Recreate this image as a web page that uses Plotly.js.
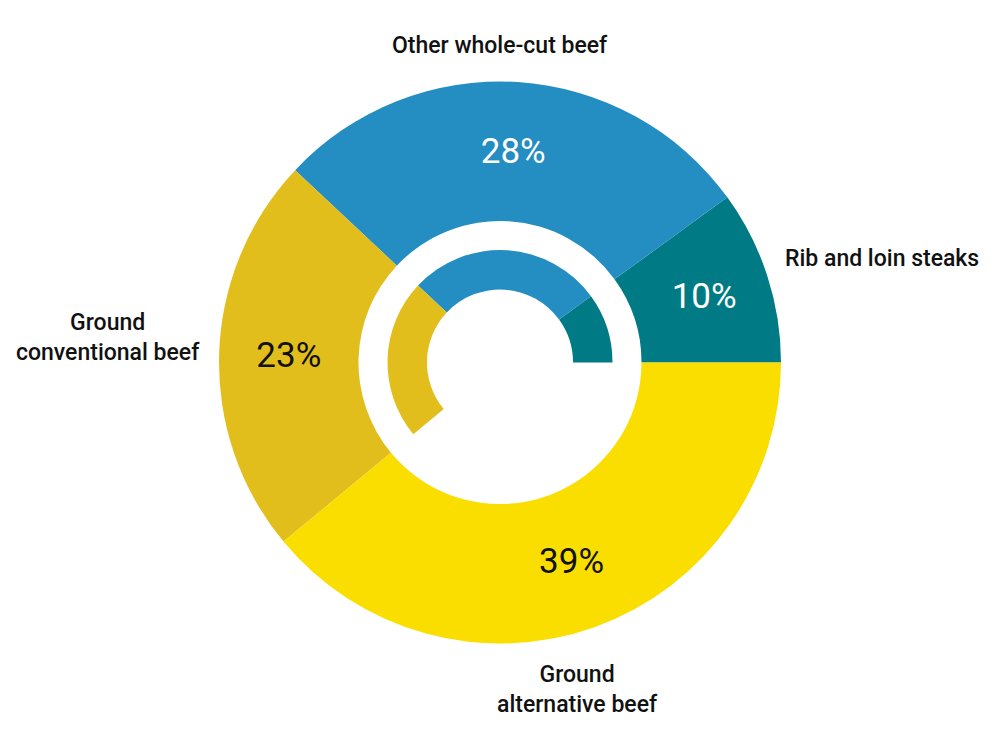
<!DOCTYPE html>
<html>
<head>
<meta charset="utf-8">
<script src="https://cdn.plot.ly/plotly-3.0.1.min.js"></script>
<style>
  html, body { margin: 0; padding: 0; background: #ffffff; }
  #chart { width: 1000px; height: 750px; }
</style>
</head>
<body>
<div id="chart"></div>
<script>
// ---- Data ----
const categories = ['Rib and loin steaks', 'Other whole-cut beef', 'Ground conventional beef', 'Ground alternative beef'];
const shares = [10, 28, 23, 39];
const labelTexts = ['Rib and loin steaks', 'Other whole-cut beef', 'Ground<br>conventional beef', 'Ground<br>alternative beef'];
// Inner partial ring shows every category except the last one
const innerShown = [true, true, true, false];

// ---- Styles ----
const sliceColors = ['#007A84', '#248DC1', '#E1BE1B', '#F9DE00'];
const pctColors = ['#ffffff', '#ffffff', '#111111', '#111111'];
const innerColors = sliceColors.map((c, i) => innerShown[i] ? c : 'rgba(0,0,0,0)');

// first slice begins at 3 o'clock and slices run counterclockwise
const total = shares.reduce((a, b) => a + b, 0);
const startRotation = 90 - shares[0] / total * 360;

// label placement (paper coords) – layout only
const labelPos = [
  {x: 0.783, y: 1 - 258 / 750, xanchor: 'left'},
  {x: 0.500, y: 1 - 45 / 750, xanchor: 'center'},
  {x: 0.108, y: 1 - 337 / 750, xanchor: 'center'},
  {x: 0.577, y: 1 - 689 / 750, xanchor: 'center'}
];

const outer = {
  type: 'pie',
  labels: categories,
  values: shares,
  sort: false,
  direction: 'counterclockwise',
  rotation: startRotation,
  hole: 0.5036,
  domain: {x: [0.219, 0.781], y: [1 - 643.5 / 750, 1 - 81.5 / 750]},
  marker: {colors: sliceColors, line: {width: 0}},
  texttemplate: '%{value}%',
  textposition: 'inside',
  insidetextorientation: 'horizontal',
  insidetextfont: {family: 'Roboto, "Noto Sans", sans-serif', size: 35, color: pctColors, weight: 400},
  hoverinfo: 'label+percent',
  showlegend: false
};

const inner = {
  type: 'pie',
  labels: categories,
  values: shares,
  sort: false,
  direction: 'counterclockwise',
  rotation: startRotation,
  hole: 0.649,
  domain: {x: [0.3875, 0.6125], y: [1 - 475 / 750, 1 - 250 / 750]},
  marker: {colors: innerColors, line: {width: 0}},
  textinfo: 'none',
  hoverinfo: 'skip',
  showlegend: false
};

const annotations = labelTexts.map((t, i) => ({
  xref: 'paper', yref: 'paper',
  x: labelPos[i].x, y: labelPos[i].y,
  xanchor: labelPos[i].xanchor, yanchor: 'middle',
  align: 'center',
  showarrow: false,
  text: t,
  font: {family: 'Roboto, "Noto Sans", sans-serif', size: 23, color: '#111111', weight: 500}
}));

const layout = {
  width: 1000,
  height: 750,
  margin: {l: 0, r: 0, t: 0, b: 0},
  paper_bgcolor: '#ffffff',
  plot_bgcolor: '#ffffff',
  showlegend: false,
  annotations: annotations
};

Plotly.newPlot('chart', [outer, inner], layout, {displayModeBar: false, staticPlot: true});
</script>
</body>
</html>
